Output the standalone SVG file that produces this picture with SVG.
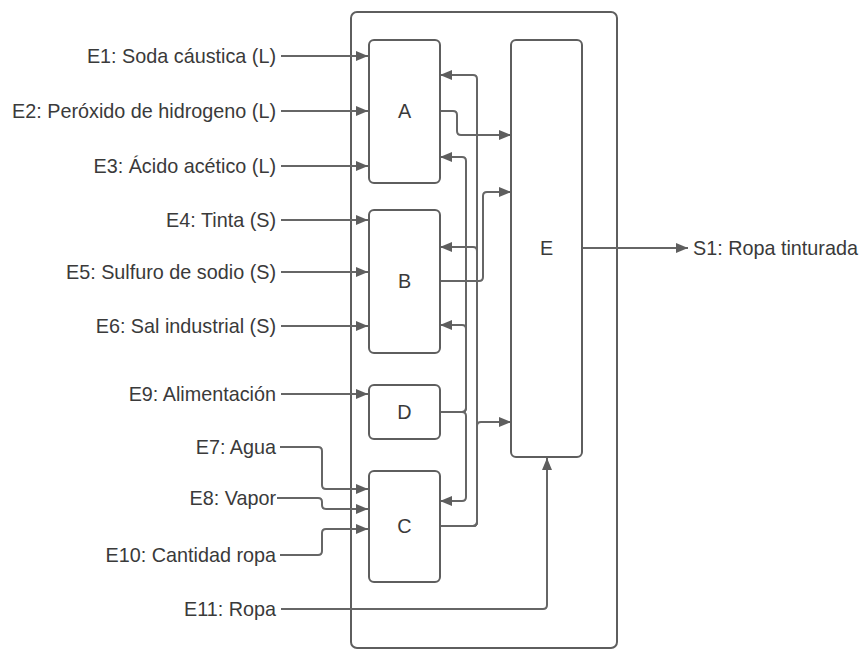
<svg xmlns="http://www.w3.org/2000/svg" width="861" height="650" viewBox="0 0 861 650">
<style>
.box{fill:#fff;stroke:#5e5e5e;stroke-width:2}
.lbl{font-family:"Liberation Sans",Arial,sans-serif;font-size:19.8px;fill:#3a3a3a}
.ctr{text-anchor:middle}
.end{text-anchor:end}
.c{fill:none;stroke:#666;stroke-width:2;stroke-linejoin:round}
.a{marker-end:url(#arr)}
</style>
<defs>
<marker id="arr" markerUnits="userSpaceOnUse" markerWidth="13" markerHeight="11" refX="12" refY="5" orient="auto">
<path d="M0,0 L12,5 L0,10 z" fill="#5e5e5e"/>
</marker>
</defs>
<rect width="861" height="650" fill="#fff"/>
<g id="container"><rect class="box" x="351" y="12" width="266" height="636" rx="6"/></g>
<g id="connectors">
<path class="c a" d="M281 56 H368"/>
<path class="c a" d="M281 111 H368"/>
<path class="c a" d="M281 166 H368"/>
<path class="c a" d="M281 220 H368"/>
<path class="c a" d="M281 272 H368"/>
<path class="c a" d="M281 326 H368"/>
<path class="c a" d="M281 394 H368"/>
<path class="c a" d="M280 447 H318 Q322 447 322 451 V485 Q322 489 326 489 H368"/>
<path class="c a" d="M277 498 H318 Q322 498 322 502 V505 Q322 509 326 509 H368"/>
<path class="c a" d="M280 555 H318 Q322 555 322 551 V533 Q322 529 326 529 H368"/>
<path class="c a" d="M281 609 H543 Q547 609 547 605 V458"/>
<path class="c a" d="M440 111 H453 Q457 111 457 115 V131 Q457 135 461 135 H511"/>
<path class="c a" d="M440 281 H479 Q483 281 483 277 V196 Q483 192 487 192 H511"/>
<path class="c a" d="M440 412 H462 Q466 412 466 408 V161 Q466 157 462 157 H440"/>
<path class="c a" d="M440 412 H462 Q466 412 466 408 V329 Q466 325 462 325 H440"/>
<path class="c a" d="M440 412 H462 Q466 412 466 416 V497 Q466 501 462 501 H440"/>
<path class="c a" d="M440 526 H473 Q477 526 477 522 V426 Q477 422 481 422 H511"/>
<path class="c a" d="M440 526 H473 Q477 526 477 522 V79 Q477 75 473 75 H440"/>
<path class="c a" d="M440 526 H473 Q477 526 477 522 V251 Q477 247 473 247 H440"/>
<path class="c a" d="M582 248 H688"/>
</g>
<g id="nodeA"><rect class="box" x="369" y="40" width="71" height="143" rx="5"/><text class="lbl ctr" x="404.5" y="118">A</text></g>
<g id="nodeB"><rect class="box" x="369" y="210" width="71" height="143" rx="5"/><text class="lbl ctr" x="404.5" y="288">B</text></g>
<g id="nodeD"><rect class="box" x="369" y="385" width="71" height="54" rx="5"/><text class="lbl ctr" x="404.5" y="419">D</text></g>
<g id="nodeC"><rect class="box" x="369" y="471" width="71" height="111" rx="5"/><text class="lbl ctr" x="404.5" y="533">C</text></g>
<g id="nodeE"><rect class="box" x="511" y="40" width="71" height="417" rx="5"/><text class="lbl ctr" x="546.5" y="255">E</text></g>
<g id="labels">
<text class="lbl end" x="276" y="63">E1: Soda cáustica (L)</text>
<text class="lbl end" x="276" y="118">E2: Peróxido de hidrogeno (L)</text>
<text class="lbl end" x="276" y="173">E3: Ácido acético (L)</text>
<text class="lbl end" x="276" y="227">E4: Tinta (S)</text>
<text class="lbl end" x="276" y="279">E5: Sulfuro de sodio (S)</text>
<text class="lbl end" x="276" y="333">E6: Sal industrial (S)</text>
<text class="lbl end" x="276" y="401">E9: Alimentación</text>
<text class="lbl end" x="276" y="454">E7: Agua</text>
<text class="lbl end" x="276" y="505">E8: Vapor</text>
<text class="lbl end" x="276" y="562">E10: Cantidad ropa</text>
<text class="lbl end" x="276" y="616">E11: Ropa</text>
<text class="lbl" x="693" y="255">S1: Ropa tinturada</text>
</g>
</svg>
